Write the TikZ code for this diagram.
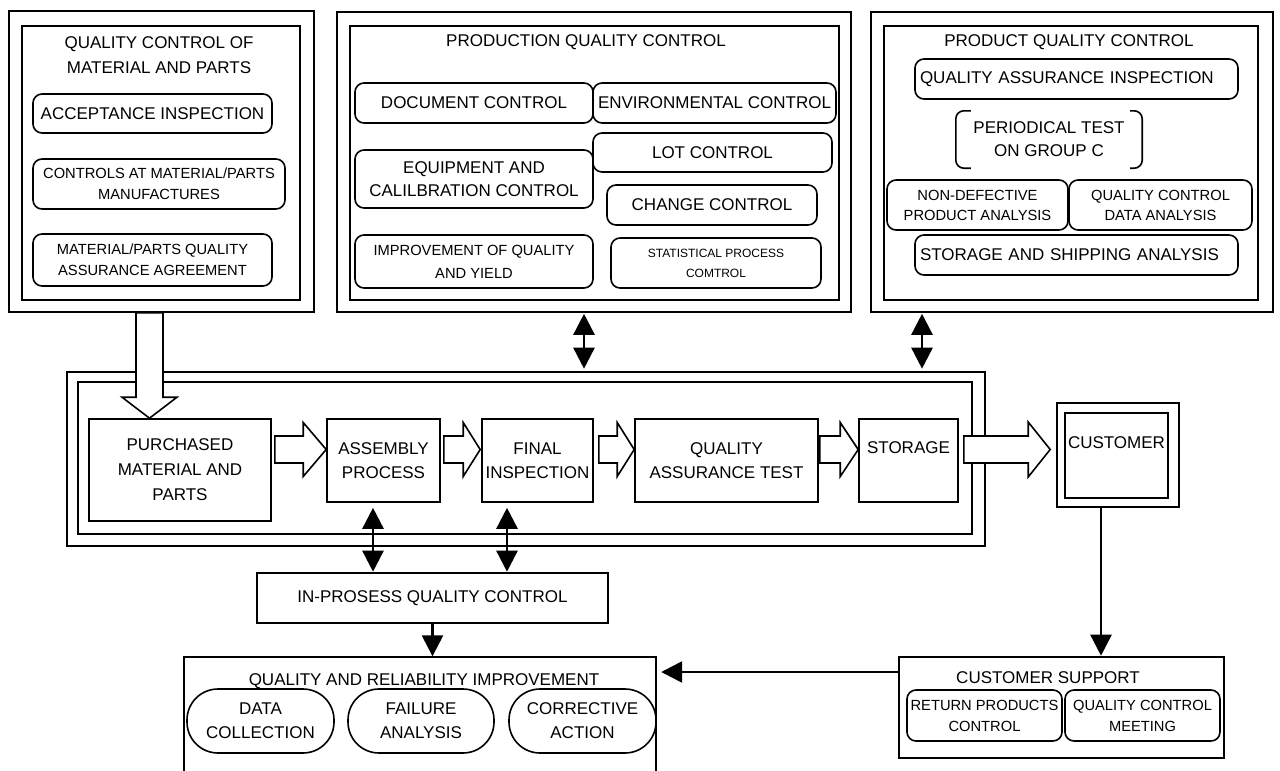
\documentclass[tikz,border=0pt]{standalone}
\usepackage{fontspec}
\setmainfont{Liberation Sans}
\usetikzlibrary{arrows.meta,calc}
\tikzset{
  box/.style={draw, line width=1.6pt, inner sep=0pt, align=center},
  rbox/.style={box, rounded corners=9pt},
  stad/.style={box, rounded corners=31pt},
  plain/.style={inner sep=0pt, align=center},
  fA/.style={font=\fontsize{17pt}{24pt}\selectfont},
  fB/.style={font=\fontsize{14.7pt}{21pt}\selectfont},
  fC/.style={font=\fontsize{12pt}{20pt}\selectfont},
  hollow/.style={draw, fill=white, line width=1.6pt, line join=miter},
  conn/.style={line width=2.6pt, -{Triangle[width=21pt,length=21pt]}},
  dconn/.style={line width=2.6pt, {Triangle[width=21pt,length=21pt]}-{Triangle[width=21pt,length=21pt]}},
  brk/.style={line width=1.6pt, rounded corners=8pt},
}
% horizontal hollow arrow: #1 tail anchor, #2 tip anchor, #3 tail gap, #4 tip gap, #5 head length, #6 head half width
\newcommand\harr[6]{%
  \draw[hollow] let \p1=(#1), \p2=(#2), \p3=(ay) in
    (\x1+#3,\y3+13.5pt) -- (\x2-#4-#5,\y3+13.5pt) -- (\x2-#4-#5,\y3+#6) -- (\x2-#4,\y3)
    -- (\x2-#4-#5,\y3-#6) -- (\x2-#4-#5,\y3-13.5pt) -- (\x1+#3,\y3-13.5pt) -- cycle;}
\begin{document}
\begin{tikzpicture}[x=1pt,y=-1pt]
\useasboundingbox (0,0) rectangle (1280,771);
\fill[white] (0,0) rectangle (1280,771);

% ---------- top left ----------
\node[box, minimum width=305pt, minimum height=301pt] (outerL) at (161.5,161.5) {};
\node[box, minimum width=278pt, minimum height=274pt] (innerL) at (161,163) {};
\node[plain, fA, font=\fontsize{17pt}{25pt}\selectfont] (tL) at (159,55.5) {QUALITY CONTROL OF\\MATERIAL AND PARTS};
\node[rbox, fA, minimum width=239pt, minimum height=39pt] (acc) at (152.5,113.5) {ACCEPTANCE INSPECTION};
\node[rbox, fB, minimum width=252pt, minimum height=50pt] (ctrl) at (159,184) {CONTROLS AT MATERIAL/PARTS\\MANUFACTURES};
\node[rbox, fB, minimum width=239pt, minimum height=52pt] (mpq) at (152.5,260) {MATERIAL/PARTS QUALITY\\ASSURANCE AGREEMENT};

% ---------- top middle ----------
\node[box, minimum width=514pt, minimum height=300pt] (outerM) at (594,162) {};
\node[box, minimum width=489pt, minimum height=274pt] (innerM) at (594.5,163) {};
\node[plain, fA] (tM) at (586,42) {PRODUCTION QUALITY CONTROL};
\node[rbox, fA, minimum width=238pt, minimum height=40pt] (doc) at (474,103) {DOCUMENT CONTROL};
\node[rbox, fA, minimum width=243pt, minimum height=40pt] (env) at (714.5,103) {ENVIRONMENTAL CONTROL};
\node[rbox, fA, font=\fontsize{17pt}{23pt}\selectfont, minimum width=238pt, minimum height=58pt] (equip) at (474,179) {EQUIPMENT AND\\CALILBRATION CONTROL};
\node[rbox, fA, minimum width=239pt, minimum height=39pt] (lot) at (712.5,152.5) {LOT CONTROL};
\node[rbox, fA, minimum width=210pt, minimum height=40pt] (chg) at (712,205) {CHANGE CONTROL};
\node[rbox, fB, font=\fontsize{14.7pt}{23pt}\selectfont, minimum width=238pt, minimum height=53pt] (impr) at (474,261.5) {IMPROVEMENT OF QUALITY\\AND YIELD};
\node[rbox, fC, minimum width=210pt, minimum height=50pt] (stat) at (716,263) {STATISTICAL PROCESS\\COMTROL};

% ---------- top right ----------
\node[box, minimum width=402pt, minimum height=300pt] (outerR) at (1072,162) {};
\node[box, minimum width=374pt, minimum height=274pt] (innerR) at (1071,163) {};
\node[plain, fA] (tR) at (1069,42) {PRODUCT QUALITY CONTROL};
\node[rbox, fA, minimum height=40pt, text width=313pt, inner xsep=5pt, align=left] (qai) at (1076.5,79) {QUALITY ASSURANCE INSPECTION};
\node[plain, fA, font=\fontsize{17pt}{23pt}\selectfont, minimum width=186pt, minimum height=57pt] (per) at (1049,139.5) {PERIODICAL TEST\\ON GROUP C};
\draw[brk] ($(per.north west)+(15,0)$) -- (per.north west) -- (per.south west) -- ($(per.south west)+(15,0)$);
\draw[brk] ($(per.north east)+(-12,0)$) -- (per.north east) -- (per.south east) -- ($(per.south east)+(-12,0)$);
\node[rbox, fB, font=\fontsize{14.7pt}{20pt}\selectfont, minimum width=181pt, minimum height=50pt] (nondef) at (977.5,205) {NON-DEFECTIVE\\PRODUCT ANALYSIS};
\node[rbox, fB, font=\fontsize{14.7pt}{20pt}\selectfont, minimum width=183pt, minimum height=50pt] (qcda) at (1160.5,205) {QUALITY CONTROL\\DATA ANALYSIS};
\node[rbox, fA, minimum height=40pt, text width=313pt, inner xsep=5pt, align=left] (ssa) at (1076.5,255) {STORAGE AND SHIPPING ANALYSIS};

% ---------- middle process ----------
\node[box, minimum width=918pt, minimum height=174pt] (outerP) at (526,459) {};
\node[box, minimum width=894pt, minimum height=152pt] (innerP) at (525,458) {};
\node[box, fA, font=\fontsize{17pt}{25pt}\selectfont, minimum width=182pt, minimum height=102pt] (pur) at (180,470) {PURCHASED\\MATERIAL AND\\PARTS};
\node[box, fA, minimum width=113pt, minimum height=83pt] (asm) at (383.5,460.5) {ASSEMBLY\\PROCESS};
\node[box, fA, minimum width=111pt, minimum height=83pt] (fin) at (537.5,460.5) {FINAL\\INSPECTION};
\node[box, fA, minimum width=183pt, minimum height=83pt] (qat) at (726.5,460.5) {QUALITY\\ASSURANCE TEST};
\node[box, fA, font=\fontsize{17pt}{25pt}\selectfont, minimum width=99pt, minimum height=83pt] (sto) at (908.5,460.5) {STORAGE\\\phantom{S}};
\node[box, minimum width=122pt, minimum height=104pt] (cust) at (1118,455) {};
\node[box, fA, font=\fontsize{17pt}{25pt}\selectfont, minimum width=103pt, minimum height=85pt] (custin) at (1116.5,455.5) {CUSTOMER\\\phantom{S}};

% ---------- bottom ----------
\node[box, fA, minimum width=351pt, minimum height=50pt] (inproc) at (432.5,598) {IN-PROSESS QUALITY CONTROL};
\node[plain, minimum width=472pt, minimum height=124pt] (qri) at (420,719) {};
\draw[line width=1.6pt] (qri.south west) -- (qri.north west) -- (qri.north east) -- (qri.south east);
\node[plain, fA] (tQ) at (424,681) {QUALITY AND RELIABILITY IMPROVEMENT};
\node[stad, fA, minimum width=147pt, minimum height=64pt] (dc) at (260.5,721) {DATA\\COLLECTION};
\node[stad, fA, minimum width=146pt, minimum height=64pt] (fa) at (421,721) {FAILURE\\ANALYSIS};
\node[stad, fA, minimum width=147pt, minimum height=64pt] (ca) at (582.5,721) {CORRECTIVE\\ACTION};

\node[box, minimum width=325pt, minimum height=101pt] (cs) at (1061.5,707.5) {};
\node[plain, fA] (tC) at (1048,678) {CUSTOMER SUPPORT};
\node[rbox, fB, minimum width=155pt, minimum height=51pt] (rpc) at (984.5,715.5) {RETURN PRODUCTS\\CONTROL};
\node[rbox, fB, minimum width=155pt, minimum height=51pt] (qcm) at (1142.5,715.5) {QUALITY CONTROL\\MEETING};

% ---------- hollow arrows ----------
\coordinate (ay) at (0,449.5);
\coordinate (vx) at (149.5,0);
\draw[hollow] let \p1=(outerL.south), \p2=(pur.north), \p3=(vx) in
  (\x3-13.5pt,\y1) -- (\x3-13.5pt,\y2+21pt) -- (\x3-27.5pt,\y2+21pt) -- (\x3,\y2)
  -- (\x3+27.5pt,\y2+21pt) -- (\x3+13.5pt,\y2+21pt) -- (\x3+13.5pt,\y1) -- cycle;
\harr{pur.east}{asm.west}{3pt}{0pt}{23pt}{27pt}
\harr{asm.east}{fin.west}{3pt}{1pt}{17pt}{27pt}
\harr{fin.east}{qat.west}{5pt}{0pt}{17pt}{27pt}
\harr{qat.east}{sto.west}{1pt}{0pt}{18pt}{27pt}
\harr{sto.east}{cust.west}{5pt}{6pt}{22pt}{27.5pt}

% ---------- connectors ----------
\coordinate (pa) at (584,0);
\coordinate (pb) at (922,0);
\coordinate (pc) at (373,0);
\coordinate (pd) at (507,0);
\coordinate (pf) at (1101,0);
\coordinate (pg) at (0,672);
\draw[dconn, shorten <=1pt, shorten >=2.5pt] (outerM.south -| pa) -- (outerP.north -| pa);
\draw[dconn, shorten <=1pt, shorten >=2.5pt] (outerR.south -| pb) -- (outerP.north -| pb);
\draw[dconn, shorten <=5pt, shorten >=0.5pt] (asm.south -| pc) -- (inproc.north -| pc);
\draw[dconn, shorten <=5pt, shorten >=0.5pt] (fin.south -| pd) -- (inproc.north -| pd);
\draw[conn, shorten >=0.5pt] (inproc.south) -- (inproc.south |- qri.north);
\draw[conn, shorten >=0.5pt] (cust.south -| pf) -- (cs.north -| pf);
\draw[conn, shorten >=5pt] (cs.west |- pg) -- (qri.east |- pg);
\end{tikzpicture}
\end{document}
